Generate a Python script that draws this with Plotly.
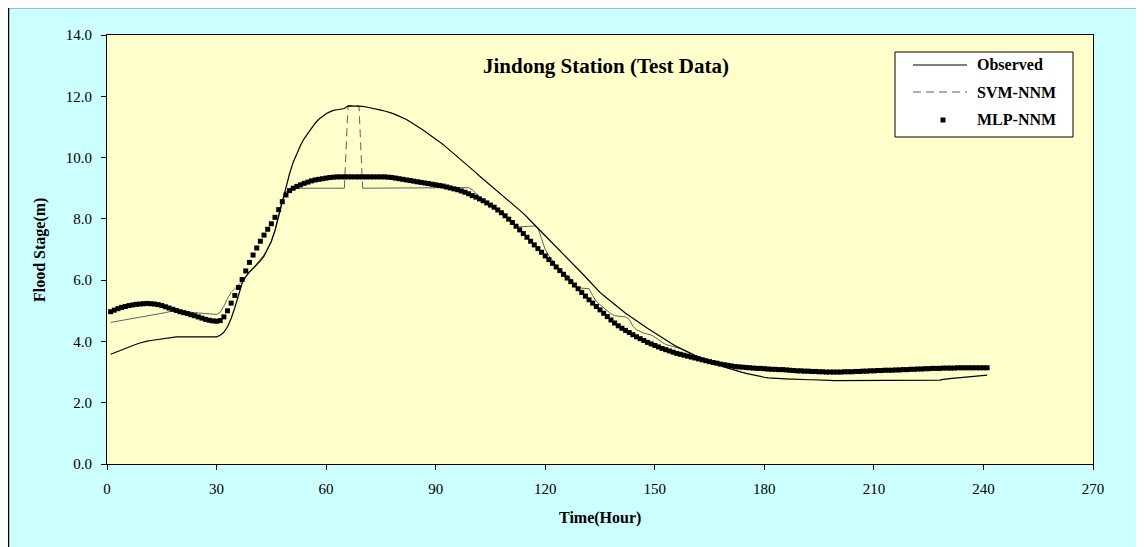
import plotly.graph_objects as go

# ---------------- data ----------------
hours = list(range(1, 242))

observed = [
    3.58, 3.63, 3.68, 3.73, 3.78, 3.83, 3.87, 3.91, 3.95, 3.99,
    4.01, 4.03, 4.05, 4.07, 4.09, 4.11, 4.13, 4.15, 4.15, 4.15,
    4.15, 4.15, 4.15, 4.15, 4.15, 4.15, 4.15, 4.15, 4.15, 4.15,
    4.20, 4.30, 4.48, 4.75, 5.10, 5.50, 5.90, 6.12, 6.27, 6.38,
    6.50, 6.63, 6.78, 7.00, 7.27, 7.62, 8.10, 8.62, 9.08, 9.48,
    9.85, 10.15, 10.40, 10.62, 10.80, 10.97, 11.12, 11.25, 11.35, 11.43,
    11.49, 11.54, 11.56, 11.57, 11.60, 11.69, 11.69, 11.69, 11.69, 11.67,
    11.65, 11.63, 11.61, 11.58, 11.55, 11.52, 11.49, 11.45, 11.40, 11.35,
    11.30, 11.24, 11.17, 11.10, 11.02, 10.94, 10.86, 10.78, 10.70, 10.61,
    10.52, 10.43, 10.33, 10.24, 10.14, 10.04, 9.94, 9.84, 9.73, 9.62,
    9.51, 9.40, 9.30, 9.20, 9.10, 9.00, 8.90, 8.80, 8.70, 8.60,
    8.50, 8.39, 8.29, 8.18, 8.06, 7.93, 7.80, 7.68, 7.57, 7.45,
    7.33, 7.21, 7.10, 6.98, 6.86, 6.74, 6.62, 6.50, 6.37, 6.24,
    6.11, 5.98, 5.85, 5.72, 5.60, 5.50, 5.40, 5.30, 5.20, 5.10,
    5.01, 4.92, 4.84, 4.75, 4.67, 4.59, 4.51, 4.43, 4.35, 4.28,
    4.20, 4.12, 4.04, 3.97, 3.90, 3.83, 3.77, 3.71, 3.66, 3.60,
    3.55, 3.50, 3.45, 3.40, 3.35, 3.30, 3.25, 3.21, 3.17, 3.13,
    3.09, 3.05, 3.02, 2.99, 2.96, 2.93, 2.90, 2.88, 2.85, 2.83,
    2.81, 2.80, 2.79, 2.78, 2.78, 2.77, 2.77, 2.77, 2.76, 2.76,
    2.76, 2.75, 2.75, 2.75, 2.74, 2.74, 2.73, 2.73, 2.72, 2.72,
    2.72, 2.72, 2.72, 2.72, 2.72, 2.72, 2.72, 2.72, 2.72, 2.72,
    2.72, 2.72, 2.72, 2.72, 2.72, 2.72, 2.72, 2.72, 2.72, 2.72,
    2.72, 2.72, 2.72, 2.72, 2.72, 2.72, 2.73, 2.74, 2.76, 2.78,
    2.79, 2.80, 2.81, 2.82, 2.83, 2.84, 2.85, 2.86, 2.88, 2.89,
    2.90,
]

svm_nnm = [
    4.62, 4.64, 4.66, 4.68, 4.70, 4.72, 4.74, 4.76, 4.78, 4.80,
    4.82, 4.84, 4.86, 4.88, 4.91, 4.94, 4.97, 5.00, 5.01, 5.00,
    4.98, 4.97, 4.95, 4.94, 4.93, 4.92, 4.91, 4.90, 4.89, 4.88,
    4.95, 5.15, 5.40, 5.60, 5.72, 5.83, 5.96, 6.10, 6.24, 6.38,
    6.52, 6.67, 6.83, 7.02, 7.25, 7.62, 8.10, 8.62, 8.88, 8.97,
    9.00, 9.00, 9.00, 9.00, 9.00, 9.00, 9.00, 9.00, 9.00, 9.00,
    9.00, 9.00, 9.00, 9.00, 9.00, 11.69, 11.70, 11.70, 11.69, 9.00,
    9.00, 9.00, 9.00, 9.00, 9.00, 9.00, 9.00, 9.00, 9.00, 9.00,
    9.00, 9.00, 9.00, 9.00, 9.00, 9.00, 9.00, 9.00, 9.00, 9.00,
    9.00, 9.00, 9.00, 9.00, 9.00, 9.00, 9.00, 9.00, 9.02, 8.95,
    8.82, 8.72, 8.63, 8.53, 8.45, 8.36, 8.27, 8.18, 8.07, 7.97,
    7.88, 7.80, 7.74, 7.74, 7.75, 7.76, 7.77, 7.70, 7.35, 7.00,
    6.80, 6.62, 6.48, 6.35, 6.25, 6.17, 6.05, 5.85, 5.76, 5.74,
    5.74, 5.72, 5.50, 5.30, 5.20, 5.10, 5.00, 4.90, 4.84, 4.82,
    4.81, 4.80, 4.72, 4.50, 4.38, 4.32, 4.27, 4.24, 4.21, 4.15,
    4.05, 3.97, 3.90, 3.86, 3.83, 3.80, 3.77, 3.72, 3.65, 3.57,
    3.50, 3.45, 3.40, 3.36, 3.33, 3.30, 3.27, 3.25, 3.22, 3.20,
    3.18, 3.17, 3.16, 3.15, 3.14, 3.13, 3.12, 3.11, 3.10, 3.10,
    3.09, 3.09, 3.08, 3.08, 3.07, 3.07, 3.06, 3.06, 3.05, 3.05,
    3.04, 3.04, 3.03, 3.03, 3.03, 3.02, 3.02, 3.02, 3.02, 3.02,
    3.02, 3.02, 3.03, 3.03, 3.03, 3.04, 3.04, 3.05, 3.05, 3.05,
    3.06, 3.06, 3.06, 3.07, 3.07, 3.07, 3.08, 3.08, 3.08, 3.09,
    3.09, 3.09, 3.10, 3.10, 3.10, 3.11, 3.11, 3.11, 3.12, 3.12,
    3.12, 3.12, 3.13, 3.13, 3.13, 3.13, 3.13, 3.13, 3.13, 3.13,
    3.13,
]

mlp_nnm = [
    4.97, 5.02, 5.07, 5.11, 5.14, 5.17, 5.19, 5.21, 5.22, 5.23,
    5.24, 5.23, 5.22, 5.20, 5.17, 5.13, 5.09, 5.05, 5.01, 4.97,
    4.94, 4.91, 4.87, 4.84, 4.80, 4.76, 4.72, 4.69, 4.67, 4.66,
    4.68, 4.80, 5.00, 5.25, 5.50, 5.76, 6.02, 6.30, 6.58, 6.82,
    7.05, 7.27, 7.47, 7.66, 7.84, 8.05, 8.30, 8.56, 8.78, 8.92,
    9.00, 9.06, 9.11, 9.16, 9.20, 9.24, 9.27, 9.29, 9.31, 9.33,
    9.35, 9.36, 9.37, 9.37, 9.37, 9.37, 9.37, 9.37, 9.37, 9.37,
    9.37, 9.37, 9.37, 9.37, 9.37, 9.37, 9.36, 9.35, 9.33, 9.31,
    9.29, 9.27, 9.25, 9.23, 9.21, 9.19, 9.17, 9.15, 9.13, 9.11,
    9.09, 9.07, 9.04, 9.01, 8.98, 8.95, 8.91, 8.87, 8.82, 8.76,
    8.71, 8.65, 8.59, 8.52, 8.45, 8.38, 8.29, 8.20, 8.10, 7.99,
    7.88, 7.76, 7.64, 7.52, 7.40, 7.27, 7.15, 7.03, 6.91, 6.79,
    6.67, 6.55, 6.43, 6.31, 6.19, 6.07, 5.95, 5.84, 5.72, 5.60,
    5.48, 5.36, 5.25, 5.14, 5.03, 4.92, 4.81, 4.70, 4.60, 4.51,
    4.43, 4.36, 4.29, 4.22, 4.15, 4.09, 4.03, 3.97, 3.92, 3.87,
    3.82, 3.77, 3.73, 3.69, 3.65, 3.61, 3.58, 3.55, 3.52, 3.49,
    3.46, 3.43, 3.40, 3.37, 3.34, 3.31, 3.29, 3.26, 3.24, 3.22,
    3.20, 3.18, 3.17, 3.16, 3.15, 3.14, 3.13, 3.12, 3.12, 3.11,
    3.10, 3.09, 3.09, 3.08, 3.08, 3.07, 3.06, 3.05, 3.04, 3.04,
    3.03, 3.03, 3.02, 3.02, 3.01, 3.01, 3.00, 3.00, 3.00, 3.00,
    3.00, 3.01, 3.01, 3.01, 3.02, 3.02, 3.03, 3.03, 3.04, 3.04,
    3.05, 3.05, 3.06, 3.06, 3.06, 3.07, 3.07, 3.08, 3.08, 3.09,
    3.09, 3.10, 3.10, 3.11, 3.11, 3.12, 3.12, 3.12, 3.13, 3.13,
    3.13, 3.13, 3.14, 3.14, 3.14, 3.14, 3.14, 3.14, 3.14, 3.14,
    3.14,
]

series_names = ["Observed", "SVM-NNM", "MLP-NNM"]
chart_title = "Jindong Station (Test Data)"
x_title = "Time(Hour)"
y_title = "Flood Stage(m)"

# ---------------- layout geometry ----------------
# The page body has an 8px margin, so the figure starts at page (8, 8).
OFF = 8
W, H = 1144, 547
PLOT_L, PLOT_R, PLOT_T, PLOT_B = 107, 1093, 35, 464   # page pixels
ML = PLOT_L - OFF
MT = PLOT_T - OFF
MR = W - (PLOT_R - OFF)
MB = H - (PLOT_B - OFF)
PW = PLOT_R - PLOT_L
PH = PLOT_B - PLOT_T


def px_x(p):
    return (p - PLOT_L) / PW


def px_y(p):
    return (PLOT_B - p) / PH


SERIF = "Liberation Serif, Times New Roman, serif"
SVM_GREY = "#606060"

# SVM jump segment (hours 65..70) is drawn dashed, the rest solid
jump_lo = hours.index(65)
jump_hi = hours.index(70) + 1
svm_solid = [None if jump_lo < i < jump_hi - 1 else v
             for i, v in enumerate(svm_nnm)]

fig = go.Figure()

fig.add_trace(go.Scatter(
    x=hours, y=svm_solid, mode="lines", name=series_names[1],
    line=dict(color=SVM_GREY, width=1), showlegend=False,
    hoverinfo="skip"))
fig.add_trace(go.Scatter(
    x=hours[jump_lo:jump_hi], y=svm_nnm[jump_lo:jump_hi], mode="lines",
    name=series_names[1],
    line=dict(color=SVM_GREY, width=1, dash="8px,5px"), showlegend=False))
fig.add_trace(go.Scatter(
    x=hours, y=mlp_nnm, mode="markers", name=series_names[2],
    marker=dict(symbol="square", size=5, color="black", line=dict(width=0)),
    showlegend=False))
fig.add_trace(go.Scatter(
    x=hours, y=observed, mode="lines", name=series_names[0],
    line=dict(color="black", width=1.2), showlegend=False))

axis_common = dict(
    showline=True, linecolor="black", linewidth=1, mirror=True,
    ticks="outside", ticklen=5, tickcolor="black", tickwidth=1,
    showgrid=False, zeroline=False,
    tickfont=dict(family=SERIF, size=15, color="black"),
)

fig.update_xaxes(range=[0, 270], tick0=0, dtick=30, ticklabelstandoff=6,
                 **axis_common)
fig.update_yaxes(range=[0, 14], tick0=0, dtick=2, tickformat=".1f",
                 ticklabelstandoff=6, **axis_common)

shapes = [
    # chart frame along the figure edge
    dict(type="rect", xref="paper", yref="paper",
         x0=px_x(8.5), x1=px_x(OFF + W - 1), y0=px_y(7.5), y1=px_y(OFF + H - 1),
         line=dict(color="black", width=1.5)),
    # legend box
    dict(type="rect", xref="paper", yref="paper",
         x0=px_x(895), x1=px_x(1073), y0=px_y(137), y1=px_y(52),
         fillcolor="white", line=dict(color="black", width=1)),
    # legend samples
    dict(type="line", xref="paper", yref="paper",
         x0=px_x(913), x1=px_x(967), y0=px_y(65), y1=px_y(65),
         line=dict(color="black", width=1.2)),
    dict(type="line", xref="paper", yref="paper",
         x0=px_x(913), x1=px_x(967), y0=px_y(92), y1=px_y(92),
         line=dict(color=SVM_GREY, width=1, dash="8px,5px")),
    dict(type="rect", xref="paper", yref="paper",
         x0=px_x(940.5), x1=px_x(945.5), y0=px_y(122.5), y1=px_y(117.5),
         fillcolor="black", line=dict(width=0)),
]

legend_rows = [65, 92, 120]
annotations = [
    dict(text=f"<b>{chart_title}</b>", xref="paper", yref="paper",
         x=px_x(606), y=px_y(66), xanchor="center", yanchor="middle",
         showarrow=False, font=dict(family=SERIF, size=21, color="black")),
    dict(text=f"<b>{x_title}</b>", xref="paper", yref="paper",
         x=px_x(600), y=px_y(518), xanchor="center", yanchor="middle",
         showarrow=False, font=dict(family=SERIF, size=16, color="black")),
    dict(text=f"<b>{y_title}</b>", xref="paper", yref="paper",
         x=px_x(40), y=px_y(250), xanchor="center", yanchor="middle",
         textangle=-90, showarrow=False,
         font=dict(family=SERIF, size=16, color="black")),
]
for name, yy in zip(series_names, legend_rows):
    annotations.append(dict(
        text=f"<b>{name}</b>", xref="paper", yref="paper",
        x=px_x(975), y=px_y(yy), xanchor="left", yanchor="middle",
        showarrow=False, font=dict(family=SERIF, size=16, color="black")))

fig.update_layout(
    width=W, height=H,
    margin=dict(l=ML, r=MR, t=MT, b=MB, pad=0),
    paper_bgcolor="#CCFFFF",
    plot_bgcolor="#FFFFCC",
    showlegend=False,
    shapes=shapes,
    annotations=annotations,
    font=dict(family=SERIF, color="black"),
)

fig.write_html("out.html")
